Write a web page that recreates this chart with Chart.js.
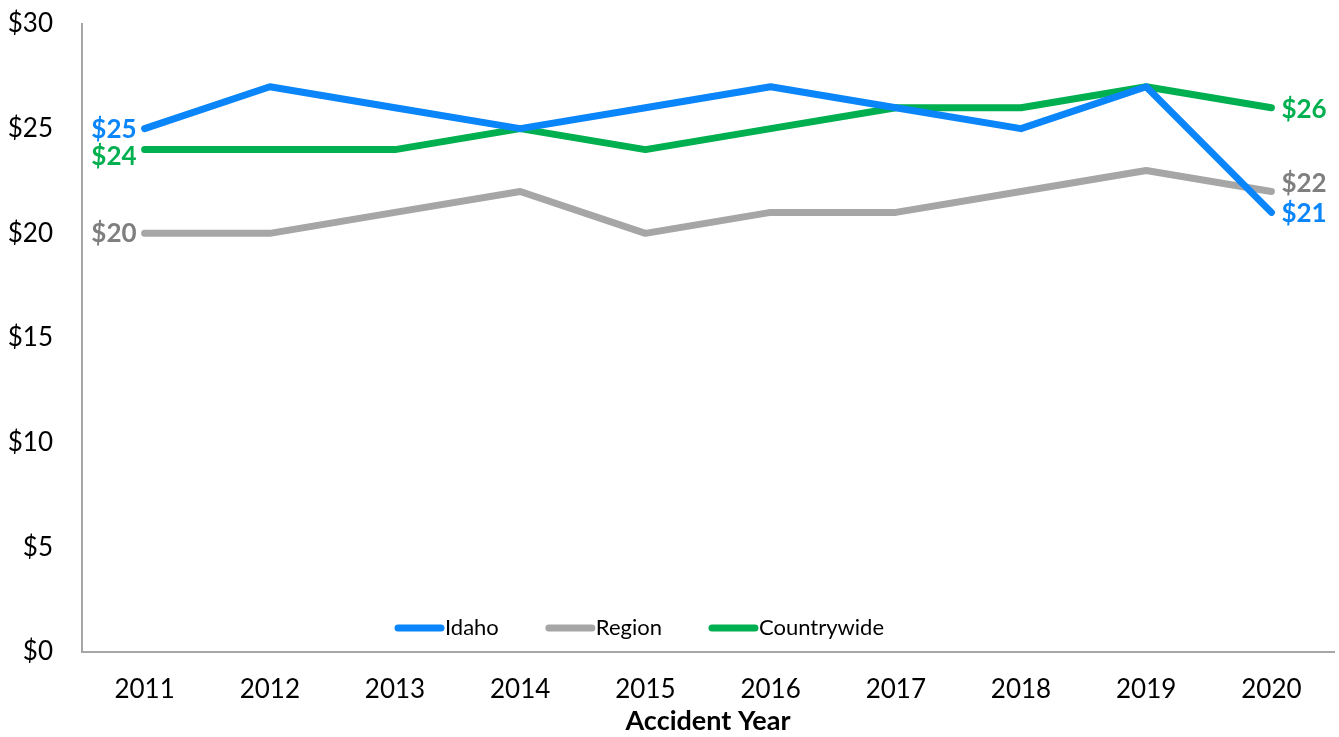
<!DOCTYPE html>
<html>
<head>
<meta charset="utf-8">
<script src="https://cdn.jsdelivr.net/npm/chart.js@4/dist/chart.umd.min.js"></script>
<style>
html,body{margin:0;padding:0;background:#fff;}
#wrap{width:1339px;height:737px;}
</style>
</head>
<body>
<div id="wrap"><canvas id="c" width="1339" height="737"></canvas></div>
<script>
const years = ['2011','2012','2013','2014','2015','2016','2017','2018','2019','2020'];
const idaho = [25, 27, 26, 25, 26, 27, 26, 25, 27, 21];
const region = [20, 20, 21, 22, 20, 21, 21, 22, 23, 22];
const countrywide = [24, 24, 24, 25, 24, 25, 26, 26, 27, 26];
const seriesNames = ['Idaho', 'Region', 'Countrywide'];
const yTicks = [0, 5, 10, 15, 20, 25, 30];

const FONT = 'Lato, "Open Sans", sans-serif';
const lineColors = ['#0A85FA', '#A6A6A6', '#00B050'];
const labelColors = ['#0A85FA', '#7F7F7F', '#00B050'];
// small vertical nudges for end labels (first, last) to avoid overlaps
const labelNudge = [[1, 1], [0, -8], [7, 2]];

const endLabels = {
  id: 'endLabels',
  afterDatasetsDraw(chart) {
    const ctx = chart.ctx;
    ctx.save();
    ctx.font = 'bold 26px ' + FONT;
    ctx.textBaseline = 'middle';
    chart.data.datasets.forEach((ds, i) => {
      const meta = chart.getDatasetMeta(i);
      const first = meta.data[0], last = meta.data[meta.data.length - 1];
      ctx.fillStyle = labelColors[i];
      ctx.textAlign = 'right';
      ctx.fillText('$' + ds.data[0], first.x - 8, first.y + labelNudge[i][0]);
      ctx.textAlign = 'left';
      ctx.fillText('$' + ds.data[ds.data.length - 1], last.x + 10, last.y + labelNudge[i][1]);
    });
    ctx.restore();
  }
};

const innerLegend = {
  id: 'innerLegend',
  afterDatasetsDraw(chart) {
    const ctx = chart.ctx;
    ctx.save();
    ctx.font = '22px ' + FONT;
    ctx.textBaseline = 'middle';
    ctx.textAlign = 'left';
    let x = 398;
    const y = 628;
    chart.data.datasets.forEach((ds, i) => {
      ctx.strokeStyle = ds.borderColor;
      ctx.lineWidth = 7;
      ctx.lineCap = 'round';
      ctx.beginPath();
      ctx.moveTo(x, y);
      ctx.lineTo(x + 43, y);
      ctx.stroke();
      ctx.fillStyle = '#000';
      ctx.fillText(ds.label, x + 47, y);
      x += 47 + ctx.measureText(ds.label).width + 50;
    });
    ctx.restore();
  }
};

const seriesData = [idaho, region, countrywide];
new Chart(document.getElementById('c'), {
  type: 'line',
  data: {
    labels: years,
    datasets: seriesData.map((d, i) => ({
      label: seriesNames[i],
      data: d,
      borderColor: lineColors[i],
      backgroundColor: lineColors[i],
      borderWidth: 7,
      borderCapStyle: 'round',
      borderJoinStyle: 'round',
      pointRadius: 0,
      tension: 0,
      fill: false
    }))
  },
  options: {
    responsive: false,
    animation: false,
    layout: { autoPadding: false, padding: { top: 24, right: 5, left: 0, bottom: 0 } },
    plugins: { legend: { display: false }, tooltip: { enabled: false } },
    scales: {
      x: {
        offset: true,
        grid: { display: false, drawTicks: false },
        border: { display: true, color: '#A6A6A6', width: 2 },
        ticks: { color: '#000', font: { family: FONT, size: 26 }, padding: 22, maxRotation: 0 },
        title: { display: true, text: 'Accident Year', color: '#000', font: { family: FONT, size: 27, weight: 'bold' }, padding: { top: 2, bottom: 0 } },
        afterFit(s) { s.height = 85; s.paddingLeft = 0; s.paddingRight = 0; }
      },
      y: {
        min: 0, max: 30,
        afterBuildTicks(s) { s.ticks = yTicks.map(v => ({ value: v })); },
        grid: { display: false, drawTicks: false },
        border: { display: true, color: '#A6A6A6', width: 2 },
        ticks: { color: '#000', font: { family: FONT, size: 26 }, padding: 29, callback: v => '$' + v },
        afterFit(s) { s.width = 82; s.paddingTop = 0; s.paddingBottom = 0; }
      }
    }
  },
  plugins: [endLabels, innerLegend]
});
</script>
</body>
</html>
